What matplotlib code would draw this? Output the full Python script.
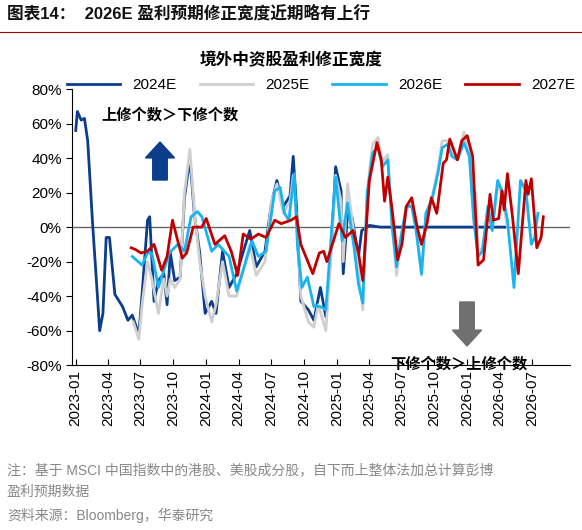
import matplotlib
matplotlib.use("Agg")
import matplotlib.pyplot as plt
from matplotlib.patches import FancyArrow
import pandas as pd
import numpy as np

plt.rcParams['font.family'] = ['Liberation Sans', 'Noto Sans CJK SC']

# month offsets from 2023-01-01 and values (%)
m_2024 = [0,0.15,0.5,0.8,1.1,1.55,1.9,2.2,2.5,2.8,3.1,3.6,4.3,4.8,5.2,5.8,6.1,6.6,6.8,7.2,7.6,8.1,8.4,8.7,9.1,9.6,10.0,10.5,10.9,11.4,11.9,12.5,12.9,13.5,14.1,14.8,16.0,16.6,17.4,18.0,18.5,19.1,19.7,20.0,20.3,20.7,21.4,21.9,22.5,23.0,23.5,23.9,24.4,24.6,25.0,25.4,26.0,26.3,27.0,28,30,33,36,39.5]
v_2024 = [56,67,62,63,50,2,-31,-60,-50,-6,-6,-39,-46,-54,-51,-62,-39,4,6,-43,-31,-27,-45,-15,-31,-29,17,40,8,-15,-50,-43,-50,-14,-35,-27,-2,-23,-14,14,27,12,18,41,12,-43,-48,-54,-35,-52,-12,35,21,-27,8,6,-17,-2,1,0,0,0,0,0]

m_2025 = [5.3,5.8,6.1,6.6,7.0,7.6,8.1,8.4,8.7,9.1,9.6,10.0,10.5,10.9,11.4,11.9,12.5,12.9,13.5,14.1,14.8,16.0,16.6,17.4,18.0,18.5,19.1,19.7,20.0,20.3,20.7,21.4,21.9,22.3,23.0,23.5,23.9,24.4,24.6,25.0,25.4,26.0,26.4,26.8,27.3,27.8,28.2,28.7,29.1,29.5,29.9,30.4,30.9,31.3,31.8,32.2,32.8,33.3,33.7,34.2,34.6,35.1,35.7,36.2,36.6,36.8,37.0,37.4,37.9,38.3,38.8,39.2,39.7]
v_2025 = [-55,-65,-45,-20,-30,-50,-30,-40,-30,-35,-30,20,45,10,-20,-40,-55,-45,-20,-40,-40,-10,-28,-20,15,25,8,15,30,5,-40,-55,-58,-45,-60,-15,30,15,-20,25,5,-25,-48,20,48,52,38,42,2,-28,-8,10,14,0,-28,6,18,33,50,50,44,40,55,44,5,20,-15,-12,10,0,25,18,0]

m_2026 = [5.2,6.1,6.6,7.0,7.6,8.6,9.4,10.0,10.6,11.2,11.6,12.5,13.1,14.1,14.8,15.4,16.2,16.8,17.5,18.3,18.8,19.2,19.6,20.1,20.4,20.8,21.3,21.9,22.5,23.0,23.6,23.9,24.5,25.0,25.6,26.0,26.4,26.8,27.3,27.8,28.2,28.7,29.1,29.5,29.9,30.4,30.9,31.3,31.8,32.2,32.8,33.3,33.7,34.2,34.6,35.1,35.7,36.2,36.6,37.0,37.4,37.9,38.3,38.8,39.2,39.7,40.3,40.9,41.4,41.9,42.2,42.5]
v_2026 = [-17,-22,-15,-15,-35,-15,-10,-14,6,9,6,-14,-10,-17,-37,-25,-8,-17,-14,21,23,8,4,31,-12,-35,-29,-46,-46,-48,4,29,-8,14,-12,-33,-44,19,43,46,35,39,0,-23,-6,12,12,-2,-27,8,17,31,46,48,41,39,49,41,4,-17,-14,12,-2,27,21,4,-35,27,21,-10,-6,8]

m_2027 = [5.1,5.5,6.0,6.6,7.2,7.9,8.4,8.9,9.3,9.8,10.2,10.8,11.6,12.0,12.8,13.7,14.3,14.9,15.4,16.1,16.8,17.5,18.3,18.9,19.8,20.3,20.7,21.8,22.4,22.8,23.1,24.2,24.8,25.5,26.0,26.4,27.0,27.7,28.1,28.4,28.7,29.1,29.6,30.0,30.4,30.9,31.4,31.8,32.3,32.7,33.2,33.8,34.1,34.4,35.1,35.5,36.0,36.5,37.0,37.5,38.1,38.4,38.9,39.2,39.4,39.7,40.2,40.7,41.4,41.6,41.9,42.4,42.8,43.0]
v_2027 = [-12,-13,-15,-14,-10,-25,-17,4,-6,-18,-15,0,0,5,-10,-5,-14,-28,-4,-7,-4,-6,4,2,4,6,-10,-27,-15,-14,-20,2,-6,-2,-15,-31,27,49,39,15,29,10,-19,-10,12,17,0,-10,2,17,8,37,39,51,39,50,53,41,-22,-19,19,4,5,21,10,31,4,-27,27,19,28,-12,-6,6]

series = [("2024E", m_2024, v_2024, "#0b3d8c"),
          ("2025E", m_2025, v_2025, "#cfcfcf"),
          ("2026E", m_2026, v_2026, "#18b4ef"),
          ("2027E", m_2027, v_2027, "#c00000")]

base = pd.Timestamp("2023-01-01")
def to_dates(ms):
    return [base + pd.Timedelta(days=float(x) * 30.44) for x in ms]

fig = plt.figure(figsize=(5.82, 5.30), dpi=100)
ax = fig.add_axes([0.124, 0.311, 0.855, 0.521])
for s in ["top", "right"]:
    ax.spines[s].set_visible(False)

ax.axhline(0, color="#666666", lw=1, zorder=1)
for name, ms, vs, c in series:
    ax.plot(to_dates(ms), np.array(vs) / 100, color=c, lw=2, label=name, zorder=2)

ax.set_ylim(-0.8, 0.8)
yt = np.arange(-0.8, 0.81, 0.2)
ax.set_yticks(yt)
ax.set_yticklabels([f"{int(round(v*100))}%" for v in yt], fontsize=11)
ax.set_xlim(pd.Timestamp("2022-12-22"), pd.Timestamp("2026-10-15"))
ticks = pd.date_range("2023-01-01", "2026-07-01", freq="3MS")
ax.set_xticks(ticks)
ax.set_xticklabels([t.strftime("%Y-%m") for t in ticks], rotation=90, fontsize=11)
ax.tick_params(axis="x", direction="in", length=4)
ax.tick_params(axis="y", direction="out", length=4)

ax.legend(loc="lower center", bbox_to_anchor=(0.5, 0.94), ncol=4, frameon=False,
          fontsize=11, handlelength=3.5, columnspacing=1.5)

fig.text(0.5, 0.877, "境外中资股盈利修正宽度", ha="center", fontsize=12, fontweight="bold")
fig.text(0.175, 0.775, "上修个数＞下修个数", fontsize=11, fontweight="bold")
fig.text(0.67, 0.305, "下修个数＞上修个数", fontsize=11, fontweight="bold")
fig.add_artist(FancyArrow(160/582, 1-180/530, 0, 38/530, width=0.025, head_width=0.05,
                          head_length=0.03, length_includes_head=True,
                          color="#0b3d8c", transform=fig.transFigure))
fig.add_artist(FancyArrow(467/582, 1-302/530, 0, -44/530, width=0.025, head_width=0.05,
                          head_length=0.03, length_includes_head=True,
                          color="#707070", transform=fig.transFigure))

fig.text(0.012, 0.965, "图表14：  2026E 盈利预期修正宽度近期略有上行", fontsize=12,
         fontweight="bold", color="#111111")
fig.add_artist(plt.Line2D([0.0, 1.0], [0.94, 0.94], color="#a00000", lw=0.8,
                          transform=fig.transFigure))
fig.text(0.012, 0.105, "注：基于 MSCI 中国指数中的港股、美股成分股，自下而上整体法加总计算彭博", fontsize=10, color="#888888")
fig.text(0.012, 0.065, "盈利预期数据", fontsize=10, color="#888888")
fig.text(0.012, 0.018, "资料来源：Bloomberg，华泰研究", fontsize=10, color="#888888")

fig.savefig("out.png", dpi=100)
